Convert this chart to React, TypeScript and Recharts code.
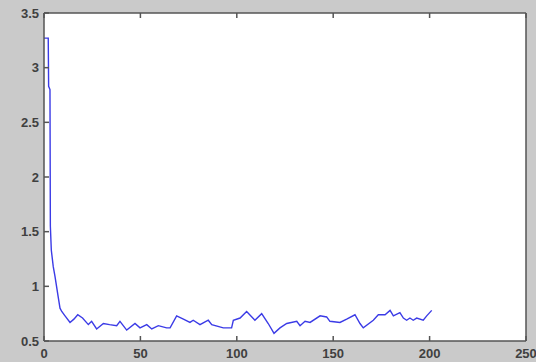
import { LineChart, Line, XAxis, YAxis, CartesianGrid } from "recharts";

// Sample positions (iteration) and values
const X_VALUES = [
  0, 2.2, 2.4, 3.1, 3.3, 3.8, 4.8, 5.7, 7.4, 8.3, 9.2, 10.9, 13.5, 15.5, 17.5, 20, 23, 24.7, 27.3, 30.8,
  34, 37.7, 39.4, 42.9, 47.2, 49.8, 53.3, 55.9, 59.3, 63.6, 65.4, 68.8, 72.3, 75.7, 77.4, 80.9, 85.2, 87,
  93, 97.3, 98.2, 101.7, 105.1, 109.4, 112.9, 116.3, 119.3, 122.4, 125.9, 131.1, 132.8, 135.4, 138, 143.2,
  146.6, 148.3, 153.5, 157, 161.3, 163.9, 165.6, 170.8, 173.4, 176.9, 179.5, 181.2, 184.6, 186.4, 188.1,
  189.8, 191.5, 193.3, 196.7, 198.5, 201.1,
];
const Y_VALUES = [
  3.27, 3.27, 2.83, 2.8, 1.55, 1.33, 1.18, 1.09, 0.9, 0.8, 0.77, 0.73, 0.67, 0.7, 0.74, 0.71, 0.65, 0.68,
  0.61, 0.66, 0.65, 0.64, 0.68, 0.6, 0.66, 0.62, 0.65, 0.61, 0.64, 0.62, 0.62, 0.73, 0.7, 0.67, 0.69, 0.65,
  0.69, 0.65, 0.62, 0.62, 0.69, 0.71, 0.77, 0.69, 0.75, 0.66, 0.57, 0.62, 0.66, 0.68, 0.64, 0.68, 0.67,
  0.73, 0.72, 0.68, 0.67, 0.7, 0.74, 0.66, 0.62, 0.69, 0.74, 0.74, 0.78, 0.73, 0.76, 0.71, 0.69, 0.71,
  0.69, 0.71, 0.69, 0.73, 0.78,
];
const X_TICKS = [0, 50, 100, 150, 200, 250];
const Y_TICKS = [0.5, 1, 1.5, 2, 2.5, 3, 3.5];

const data = X_VALUES.map((x, i) => ({ x, y: Y_VALUES[i] }));

const axisColor = "#555";
const axisLine = { stroke: axisColor, strokeWidth: 1.5 };
const TICK_LEN = 5;
const font = { fontSize: 13, fontWeight: "bold" as const, fill: "#404040", fontFamily: "Liberation Sans, Arial, sans-serif" };

type Side = "bottom" | "top" | "left" | "right";

// MATLAB-style ticks: short marks pointing into the plot, label outside.
function makeTick(side: Side, margin: number, withLabel: boolean) {
  return (props: any) => {
    const { x, y, payload } = props;
    let line = { x1: x, y1: y, x2: x, y2: y };
    if (side === "bottom") line = { x1: x, y1: y - margin, x2: x, y2: y - margin - TICK_LEN };
    if (side === "top") line = { x1: x, y1: y + margin, x2: x, y2: y + margin + TICK_LEN };
    if (side === "left") line = { x1: x + margin, y1: y, x2: x + margin + TICK_LEN, y2: y };
    if (side === "right") line = { x1: x - margin, y1: y, x2: x - margin - TICK_LEN, y2: y };
    return (
      <g>
        <line {...line} stroke={axisColor} strokeWidth={1.5} />
        {withLabel && side === "bottom" && (
          <text x={x} y={y} dy="0.75em" textAnchor="middle" {...font}>
            {payload.value}
          </text>
        )}
        {withLabel && side === "left" && (
          <text x={x} y={y} dy="0.36em" textAnchor="end" {...font}>
            {payload.value}
          </text>
        )}
      </g>
    );
  };
}

export default function App() {
  return (
    <div style={{ position: "absolute", left: 0, top: 0, width: 536, height: 362, background: "#cacaca", overflow: "hidden" }}>
      <LineChart width={536} height={362} data={data} margin={{ top: 0, right: 0, bottom: 0, left: 0 }}>
        <CartesianGrid fill="#ffffff" horizontal={false} vertical={false} />
        <XAxis xAxisId="b" dataKey="x" type="number" domain={[0, 250]} ticks={X_TICKS} height={21}
          tickSize={0} tickMargin={7} tick={makeTick("bottom", 7, true)} axisLine={axisLine} tickLine={false} interval={0} />
        <XAxis xAxisId="t" orientation="top" dataKey="x" type="number" domain={[0, 250]} ticks={X_TICKS}
          height={13} tickSize={0} tickMargin={0} tick={makeTick("top", 0, false)} axisLine={axisLine} tickLine={false} interval={0} />
        <YAxis yAxisId="l" type="number" domain={[0.5, 3.5]} ticks={Y_TICKS} width={44}
          tickSize={0} tickMargin={5} tick={makeTick("left", 5, true)} axisLine={axisLine} tickLine={false} interval={0} />
        <YAxis yAxisId="r" orientation="right" type="number" domain={[0.5, 3.5]} ticks={Y_TICKS}
          width={10} tickSize={0} tickMargin={0} tick={makeTick("right", 0, false)} axisLine={axisLine} tickLine={false} interval={0} />
        <Line
          xAxisId="b"
          yAxisId="l"
          type="linear"
          dataKey="y"
          stroke="#3b3be6"
          strokeWidth={1.4}
          dot={false}
          isAnimationActive={false}
        />
      </LineChart>
    </div>
  );
}
